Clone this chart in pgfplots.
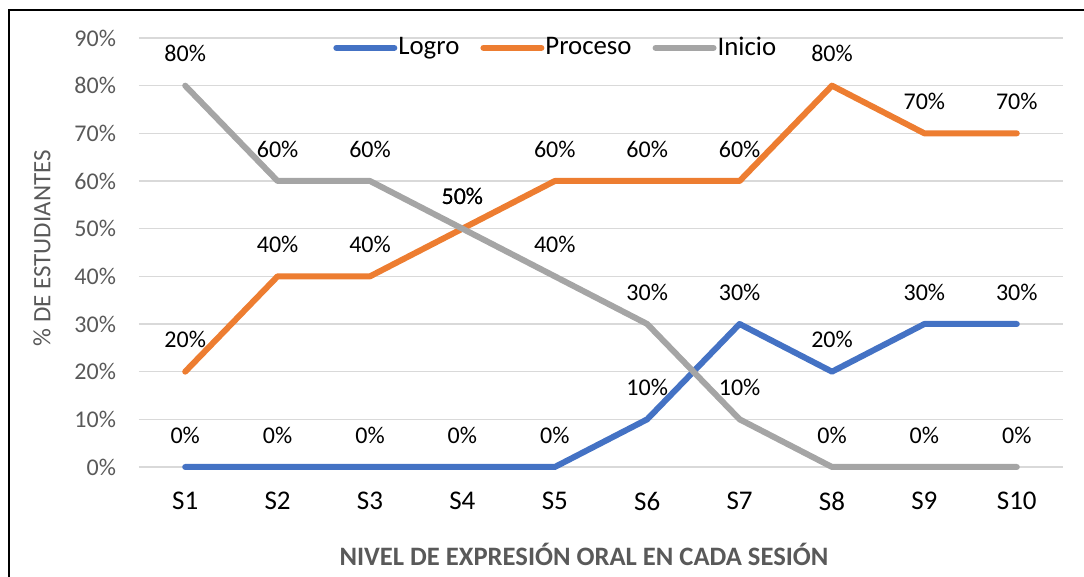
\documentclass[border=0pt]{standalone}
\usepackage{pgfplots}
\pgfplotsset{compat=1.18}
\usepackage{fontspec}
\setmainfont{Carlito}
\definecolor{logro}{HTML}{4472C4}
\definecolor{proceso}{HTML}{ED7D31}
\definecolor{inicio}{HTML}{A5A5A5}
\definecolor{txtgray}{HTML}{595959}
\definecolor{gridgray}{HTML}{D9D9D9}

\begin{document}
\begin{tikzpicture}
\useasboundingbox (-69.5pt,-55pt) rectangle (472.5pt,233.5pt);
\draw[line width=1pt] (-65pt,-60pt) -- (-65pt,228.5pt) -- (480pt,228.5pt);
\begin{axis}[
  at={(0,0)}, anchor=south west,
  scale only axis,
  width=462pt, height=214.5pt,
  xmin=0.5, xmax=10.5,
  ymin=0, ymax=90,
  xtick={1,...,10},
  xticklabels={S1,S2,S3,S4,S5,S6,S7,S8,S9,S10},
  ytick={0,10,...,90},
  yticklabels={0\%,10\%,20\%,30\%,40\%,50\%,60\%,70\%,80\%,90\%},
  axis line style={draw=none},
  major tick length=0pt,
  ymajorgrids,
  grid style={gridgray, line width=0.75pt},
  font=\fontsize{12}{14}\selectfont,
  yticklabel style={txtgray, xshift=-8pt, font=\fontsize{12}{14}\selectfont},
  xticklabel style={black, yshift=-9pt, font=\fontsize{13.5}{15}\selectfont},
  xlabel={\textbf{NIVEL DE EXPRESIÓN ORAL EN CADA SESIÓN}},
  xlabel style={txtgray, at={(axis description cs:0.5,0)}, anchor=center, yshift=-43.5pt, xshift=-8.5pt, font=\fontsize{13.3}{15}\selectfont},
  ylabel={\% DE ESTUDIANTES},
  ylabel style={txtgray, at={(axis description cs:-0.105,0.51)}, anchor=center, font=\fontsize{12.5}{14}\selectfont},
  /pgf/number format/assume math mode=true,
  nodes near coords={\pgfmathprintnumber{\pgfplotspointmeta}\%},
  every node near coord/.append style={black, anchor=center, yshift=16pt, font=\fontsize{12}{14}\selectfont},
  legend style={at={(axis description cs:0.4505,0.977)}, anchor=center, draw=none, fill=none,
    legend columns=-1, font=\fontsize{13.4}{15}\selectfont,
    /tikz/every even column/.append style={column sep=10pt},
    /tikz/every odd column/.append style={column sep=0pt},
    nodes={inner xsep=0.5pt}},
  legend image code/.code={\draw[#1, line cap=round] (0pt,0pt) -- (29pt,0pt);},
  every axis plot/.append style={line width=3pt, line join=round, line cap=round, mark=none},
  clip=false,
]
\addplot[logro] coordinates {(1,0)(2,0)(3,0)(4,0)(5,0)(6,10)(7,30)(8,20)(9,30)(10,30)};
\addplot[proceso] coordinates {(1,20)(2,40)(3,40)(4,50)(5,60)(6,60)(7,60)(8,80)(9,70)(10,70)};
\addplot[inicio] coordinates {(1,80)(2,60)(3,60)(4,50)(5,40)(6,30)(7,10)(8,0)(9,0)(10,0)};
\legend{Logro,Proceso,Inicio}
\end{axis}
\end{tikzpicture}
\end{document}
